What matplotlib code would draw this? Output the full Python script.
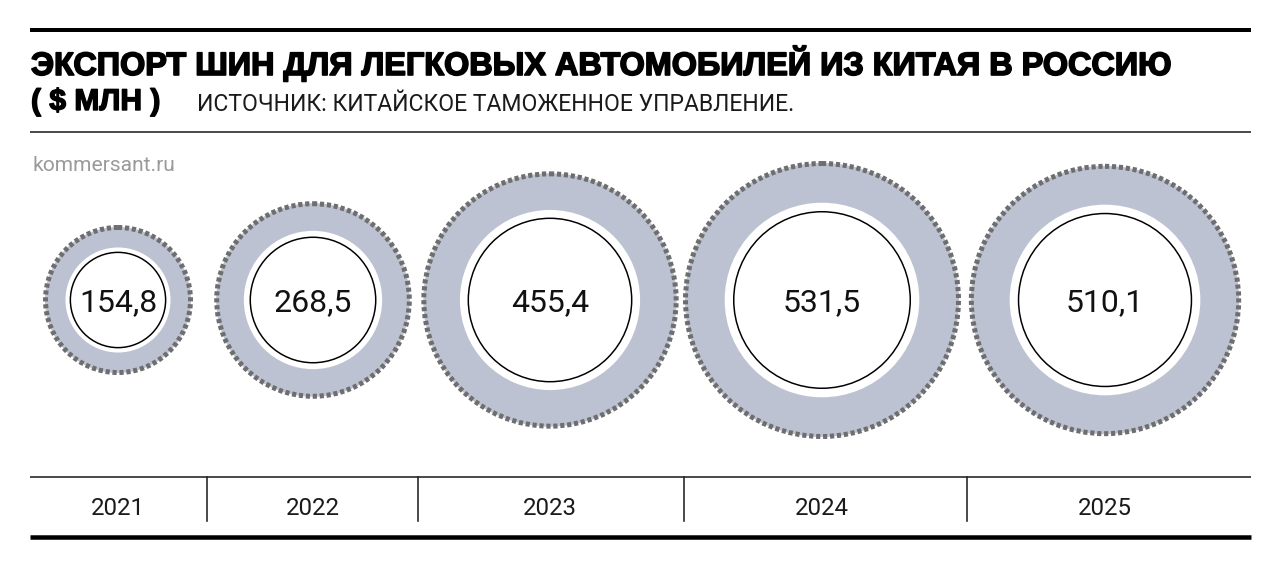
import matplotlib
matplotlib.use("Agg")
import matplotlib.pyplot as plt
from matplotlib.patches import Circle
import matplotlib.patheffects as pe
import numpy as np

plt.rcParams["lines.scale_dashes"] = False

# data
years = ["2021", "2022", "2023", "2024", "2025"]
values = [154.8, 268.5, 455.4, 531.5, 510.1]
value_labels = ["154,8", "268,5", "455,4", "531,5", "510,1"]

title = "ЭКСПОРТ ШИН ДЛЯ ЛЕГКОВЫХ АВТОМОБИЛЕЙ ИЗ КИТАЯ В РОССИЮ"
unit = "( $ МЛН )"
source = "ИСТОЧНИК: КИТАЙСКОЕ ТАМОЖЕННОЕ УПРАВЛЕНИЕ."
site = "kommersant.ru"

# layout (pixels)
W, H = 1280, 568
centers_x = [118, 313, 550, 822, 1105]
seps_x = [207, 418, 684, 967]
cy = 300
K = 139 / np.sqrt(531.5)  # outer radius per sqrt(value)

TIRE = "#bcc2d1"
TREAD = "#6e6e6e"
NARROW = ["Roboto", "DejaVu Sans"]
REG = ["Liberation Sans", "DejaVu Sans"]

px = 0.72  # points per pixel at dpi 100

fig = plt.figure(figsize=(W / 100, H / 100), dpi=100)
ax = fig.add_axes([0, 0, 1, 1])
ax.set_xlim(0, W)
ax.set_ylim(H, 0)
ax.set_aspect("equal")
ax.axis("off")

# rules
ax.plot([30, 1251], [30, 30], color="black", lw=4 * px, solid_capstyle="butt")
ax.plot([30, 1251], [132, 132], color="#222222", lw=1.6 * px, solid_capstyle="butt")
ax.plot([30, 1251], [477, 477], color="#222222", lw=1.6 * px, solid_capstyle="butt")
ax.plot([30, 1251], [537, 537], color="black", lw=4.5 * px, solid_capstyle="butt")
for sx in seps_x:
    ax.plot([sx, sx], [477, 521], color="#222222", lw=1.6 * px)

# headings
ax.text(31, 75, title, fontsize=32.4 * px, fontweight="bold", family=REG,
        va="baseline", ha="left", color="black",
        path_effects=[pe.withStroke(linewidth=1.2, foreground="black")])
ax.text(31, 110, unit, fontsize=30 * px, fontweight="bold", family=REG,
        va="baseline", ha="left", color="black",
        path_effects=[pe.withStroke(linewidth=1.0, foreground="black")])
ax.text(197, 111, source, fontsize=23 * px, family=NARROW,
        va="baseline", ha="left", color="#1a1a1a")
ax.text(33, 171, site, fontsize=21 * px, family=NARROW,
        va="baseline", ha="left", color="#9a9a9a")

# tires
for x, v, lab in zip(centers_x, values, value_labels):
    r = K * np.sqrt(v)
    ax.add_patch(Circle((x, cy), r - 2, facecolor=TIRE, edgecolor="none", zorder=2))
    ax.add_patch(Circle((x, cy), r - 2.5, facecolor="none", edgecolor=TREAD,
                        lw=5 * px, linestyle=(0, (3.0, 2.0)), zorder=3))
    ax.add_patch(Circle((x, cy), 0.70 * r, facecolor="white", edgecolor="none", zorder=4))
    ax.add_patch(Circle((x, cy), 0.635 * r, facecolor="white", edgecolor="black",
                        lw=1.5 * px, zorder=5))
    ax.text(x, cy + 11, lab, fontsize=32 * px, family=NARROW,
            ha="center", va="baseline", color="#111111", zorder=6)

# years
for x, y in zip(centers_x, years):
    ax.text(x, 515, y, fontsize=24 * px, family=NARROW, ha="center",
            va="baseline", color="#1a1a1a")

fig.savefig("out.png", dpi=100, facecolor="white")
